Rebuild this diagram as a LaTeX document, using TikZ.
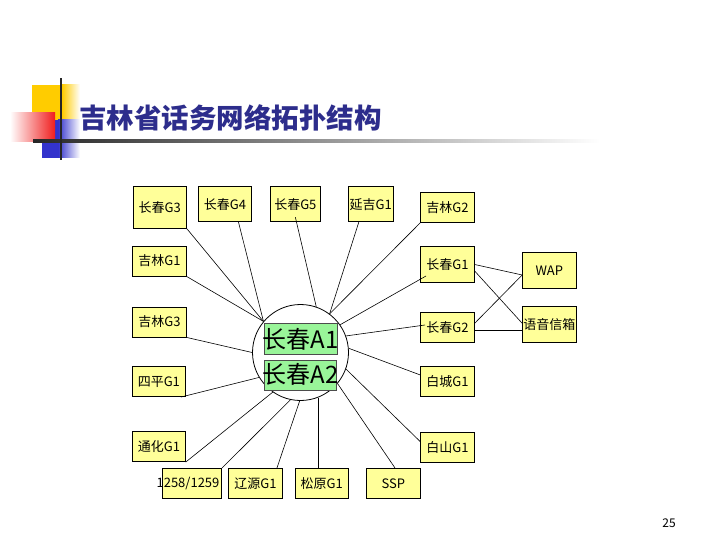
\documentclass[tikz,border=0pt]{standalone}
\usepackage{fontspec}
\setmainfont{Noto Sans CJK SC}
\definecolor{boxyellow}{RGB}{255,255,153}
\definecolor{boxgreen}{RGB}{153,245,153}
\definecolor{titleblue}{RGB}{45,45,140}
\definecolor{decogold}{RGB}{255,204,0}
\definecolor{decoblue}{RGB}{51,51,204}
\definecolor{decored}{RGB}{240,30,30}
\begin{document}
\begin{tikzpicture}[x=1pt,y=-1pt,
  gbox/.style={draw=black, line width=0.8pt, fill=boxyellow, inner sep=0pt,
    minimum width=53.5pt, minimum height=30pt, font=\fontsize{13}{15}\selectfont},
  abox/.style={draw=black!70, line width=0.5pt, fill=boxgreen, inner sep=0pt,
    minimum width=73pt, minimum height=30.5pt},
  atext/.style={inner sep=0pt, font=\fontsize{24}{26}\selectfont},
  link/.style={draw=black, line width=0.6pt}]
\useasboundingbox (0,0) rectangle (720,540);
\fill[white] (0,0) rectangle (720,540);
% title decoration
\fill[decogold] (32,85) rectangle (62,120);
\shade[left color=decogold, right color=white] (62,85) rectangle (80,120);
\fill[decoblue] (42,120) rectangle (58,158);
\shade[left color=decoblue, right color=white] (58,120) rectangle (80,158);
\shade[left color=white, right color=decored] (10,113) rectangle (55,142);
\shade[left color=black!85, middle color=black!45, right color=white] (33,140) rectangle (600,142.5);
\fill[black!85] (59.8,78) rectangle (62.3,160);
\node[anchor=west, inner sep=0pt, text=titleblue, font=\fontsize{27.5}{30}\selectfont\bfseries] (title) at (79,118) {吉林省话务网络拓扑结构};
% hub
\node[draw=black, line width=0.8pt, circle, minimum size=96pt, inner sep=0pt] (hub) at (300.5,352.5) {};
% yellow boxes
\node[gbox, minimum height=41.6pt] (ccg3) at (159.7,207.5) {长春G3};
\node[gbox, minimum height=35pt] (ccg4) at (225,204.2) {长春G4};
\node[gbox, minimum width=49.3pt, minimum height=35pt] (ccg5) at (295.35,204.2) {长春G5};
\node[gbox, minimum width=45pt, minimum height=35pt] (yjg1) at (370.8,204.2) {延吉G1};
\node[gbox] (jlg2) at (447.5,207.3) {吉林G2};
\node[gbox] (jlg1) at (159.4,261) {吉林G1};
\node[gbox, minimum height=35.6pt] (ccg1) at (447.5,264.5) {长春G1};
\node[gbox, minimum height=35.6pt] (wap) at (549.35,270.5) {WAP};
\node[gbox, minimum height=35.6pt] (vm) at (549.35,324.5) {语音信箱};
\node[gbox] (ccg2) at (447.5,327.3) {长春G2};
\node[gbox] (jlg3) at (159.4,322) {吉林G3};
\node[gbox, minimum width=52.3pt] (spg1) at (158.85,381.7) {四平G1};
\node[gbox] (bcg1) at (447.5,381.7) {白城G1};
\node[gbox, minimum width=52.6pt] (thg1) at (159,446.7) {通化G1};
\node[gbox] (bsg1) at (447.5,447.3) {白山G1};
\node[gbox, minimum width=59pt] (num) at (192.2,483.3) {};
\node[inner sep=0pt, font=\fontsize{13}{15}\selectfont] (numtext) at (188,483.3) {1258/1259};
\node[gbox, minimum width=54.4pt] (lyg1) at (255.5,483.3) {辽源G1};
\node[gbox, minimum width=53.3pt] (syg1) at (321.65,483.3) {松原G1};
\node[gbox, minimum width=53.3pt] (ssp) at (393.35,483.3) {SSP};
% green boxes
\node[abox] (a1box) at (300.5,338.5) {};
\node[abox, minimum width=72pt] (a2box) at (300,375) {};
\node[atext] (a1) at (300.5,339) {长春A1};
\node[atext] (a2) at (300.5,374) {长春A2};
% connectors to hub
\draw[link] (ccg3.south east) -- (hub.140);
\draw[link] (jlg1.south east) -- (hub.140);
\draw[link] ([xshift=13.5pt]ccg4.south) -- (hub.140);
\draw[link] ([yshift=-13pt]ccg5.center) -- (hub.71);
\draw[link] ([xshift=-12pt]yjg1.south) -- (hub.53);
\draw[link] (jlg2.south west) -- (hub.53);
\draw[link] ([xshift=-21.5pt,yshift=-11.5pt]ccg1.center) -- (hub.35);
\draw[link] (hub.20) -- ([xshift=-22.5pt,yshift=2.3pt]ccg2.center);
\draw[link] (hub.5) -- ([yshift=6.7pt]bcg1.west);
\draw[link] (hub.-20) -- ([yshift=5.6pt]bsg1.west);
\draw[link] (hub.-40) -- ([xshift=1.6pt]ssp.north);
\draw[link] (hub.-69) -- (hub.-69 |- syg1.north);
\draw[link] (hub.-91) -- ([xshift=21.5pt]lyg1.north);
\draw[link] (hub.-102) -- (num.north east);
\draw[link] (hub.-125) -- (thg1.south east);
\draw[link] (hub.211) -- ([xshift=22pt]spg1.south);
\draw[link] (hub.180) -- (jlg3.south east);
% cross links
\draw[link] (ccg1.east) -- ([yshift=-4.5pt]wap.west);
\draw[link] ([yshift=-6.5pt]ccg1.east) -- ([yshift=1.2pt]vm.west);
\draw[link] ([yshift=4pt]ccg2.east) -- ([yshift=-4.5pt]wap.west);
\draw[link] ([yshift=-2.7pt]ccg2.east) -- ([yshift=-5.5pt]vm.west);
% page number
\node[inner sep=0pt, font=\fontsize{12}{14}\selectfont] (page) at (669,523) {25};
\end{tikzpicture}
\end{document}
